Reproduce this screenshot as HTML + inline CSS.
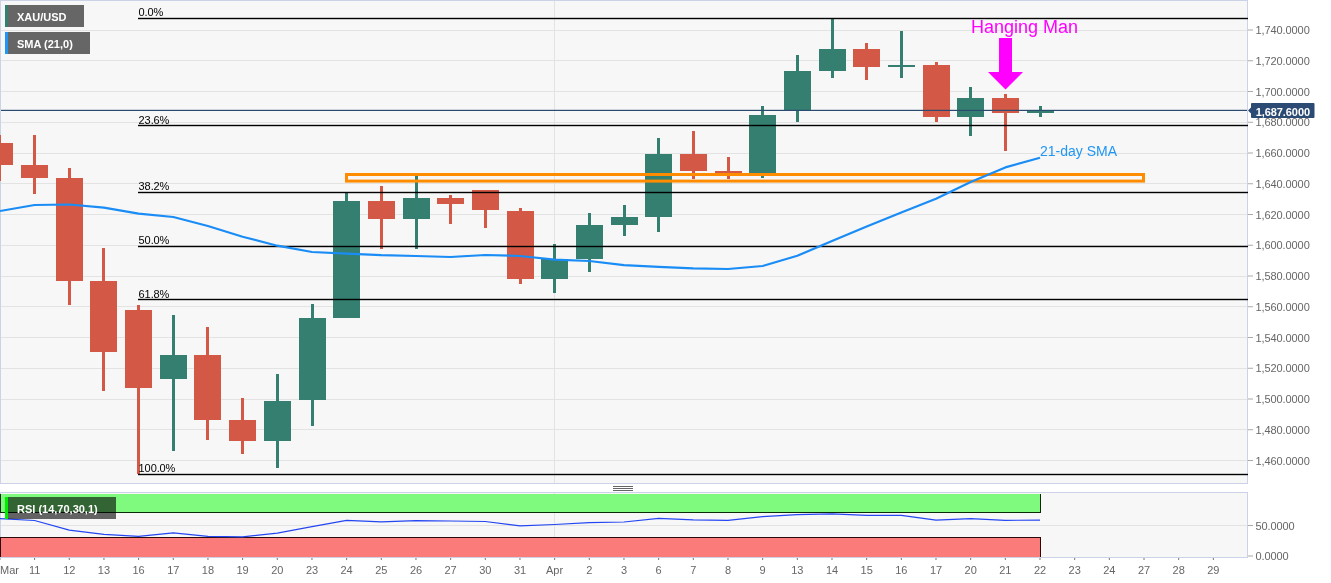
<!DOCTYPE html>
<html><head><meta charset="utf-8"><style>
html,body{margin:0;padding:0;background:#fff;width:1331px;height:583px;overflow:hidden;position:relative;font-family:"Liberation Sans",sans-serif;}
</style></head><body>
<svg width="1331" height="583" viewBox="0 0 1331 583" style="position:absolute;left:0;top:0;will-change:transform"><rect x="0" y="0" width="1248" height="484" fill="#f7f7f7"/><rect x="0" y="492" width="1248" height="66" fill="#f7f7f7"/><rect x="0" y="0" width="1248" height="1" fill="#ccd3e6"/><rect x="0" y="0" width="1" height="484" fill="#ccd3e6"/><rect x="1247" y="0" width="1" height="484" fill="#ccd3e6"/><rect x="0" y="483" width="1248" height="1" fill="#ccd3e6"/><rect x="0" y="492" width="1248" height="1" fill="#ccd3e6"/><rect x="0" y="492" width="1" height="66" fill="#ccd3e6"/><rect x="1247" y="492" width="1" height="66" fill="#ccd3e6"/><rect x="0" y="557" width="1248" height="1" fill="#ccd3e6"/><rect x="1" y="30" width="1246" height="1" fill="#e3e3e3"/><rect x="1" y="60" width="1246" height="1" fill="#e3e3e3"/><rect x="1" y="91" width="1246" height="1" fill="#e3e3e3"/><rect x="1" y="122" width="1246" height="1" fill="#e3e3e3"/><rect x="1" y="153" width="1246" height="1" fill="#e3e3e3"/><rect x="1" y="183" width="1246" height="1" fill="#e3e3e3"/><rect x="1" y="214" width="1246" height="1" fill="#e3e3e3"/><rect x="1" y="245" width="1246" height="1" fill="#e3e3e3"/><rect x="1" y="276" width="1246" height="1" fill="#e3e3e3"/><rect x="1" y="306" width="1246" height="1" fill="#e3e3e3"/><rect x="1" y="337" width="1246" height="1" fill="#e3e3e3"/><rect x="1" y="368" width="1246" height="1" fill="#e3e3e3"/><rect x="1" y="399" width="1246" height="1" fill="#e3e3e3"/><rect x="1" y="429" width="1246" height="1" fill="#e3e3e3"/><rect x="1" y="460" width="1246" height="1" fill="#e3e3e3"/><rect x="554" y="1" width="1" height="482" fill="#e3e3e3"/><rect x="554" y="493" width="1" height="64" fill="#e3e3e3"/><rect x="1" y="525" width="1246" height="1" fill="#e3e3e3"/><rect x="-2" y="135" width="3" height="46" fill="#d35846"/><rect x="-14" y="143" width="27" height="22" fill="#d35846"/><rect x="33" y="135" width="3" height="59" fill="#d35846"/><rect x="21" y="165" width="27" height="13" fill="#d35846"/><rect x="68" y="168" width="3" height="137" fill="#d35846"/><rect x="56" y="178" width="27" height="103" fill="#d35846"/><rect x="102" y="248" width="3" height="143" fill="#d35846"/><rect x="90" y="281" width="27" height="71" fill="#d35846"/><rect x="137" y="305" width="3" height="169" fill="#d35846"/><rect x="125" y="310" width="27" height="78" fill="#d35846"/><rect x="172" y="315" width="3" height="136" fill="#357f70"/><rect x="160" y="355" width="27" height="24" fill="#357f70"/><rect x="206" y="327" width="3" height="113" fill="#d35846"/><rect x="194" y="355" width="27" height="65" fill="#d35846"/><rect x="241" y="398" width="3" height="56" fill="#d35846"/><rect x="229" y="420" width="27" height="21" fill="#d35846"/><rect x="276" y="374" width="3" height="94" fill="#357f70"/><rect x="264" y="401" width="27" height="40" fill="#357f70"/><rect x="311" y="304" width="3" height="122" fill="#357f70"/><rect x="299" y="318" width="27" height="82" fill="#357f70"/><rect x="345" y="193" width="3" height="125" fill="#357f70"/><rect x="333" y="201" width="27" height="117" fill="#357f70"/><rect x="380" y="186" width="3" height="63" fill="#d35846"/><rect x="368" y="201" width="27" height="18" fill="#d35846"/><rect x="415" y="176" width="3" height="73" fill="#357f70"/><rect x="403" y="198" width="27" height="21" fill="#357f70"/><rect x="449" y="195" width="3" height="29" fill="#d35846"/><rect x="437" y="198" width="27" height="6" fill="#d35846"/><rect x="484" y="190" width="3" height="38" fill="#d35846"/><rect x="472" y="190" width="27" height="20" fill="#d35846"/><rect x="519" y="208" width="3" height="76" fill="#d35846"/><rect x="507" y="211" width="27" height="68" fill="#d35846"/><rect x="553" y="244" width="3" height="49" fill="#357f70"/><rect x="541" y="259" width="27" height="20" fill="#357f70"/><rect x="588" y="213" width="3" height="59" fill="#357f70"/><rect x="576" y="225" width="27" height="34" fill="#357f70"/><rect x="623" y="205" width="3" height="31" fill="#357f70"/><rect x="611" y="217" width="27" height="8" fill="#357f70"/><rect x="657" y="138" width="3" height="94" fill="#357f70"/><rect x="645" y="154" width="27" height="63" fill="#357f70"/><rect x="692" y="131" width="3" height="48" fill="#d35846"/><rect x="680" y="154" width="27" height="17" fill="#d35846"/><rect x="727" y="157" width="3" height="22" fill="#d35846"/><rect x="715" y="171" width="27" height="3" fill="#d35846"/><rect x="761" y="106" width="3" height="72" fill="#357f70"/><rect x="749" y="115" width="27" height="58" fill="#357f70"/><rect x="796" y="55" width="3" height="67" fill="#357f70"/><rect x="784" y="71" width="27" height="39" fill="#357f70"/><rect x="831" y="19" width="3" height="59" fill="#357f70"/><rect x="819" y="49" width="27" height="22" fill="#357f70"/><rect x="865" y="43" width="3" height="37" fill="#d35846"/><rect x="853" y="49" width="27" height="18" fill="#d35846"/><rect x="900" y="31" width="3" height="47" fill="#357f70"/><rect x="888" y="65" width="27" height="2" fill="#357f70"/><rect x="935" y="62" width="3" height="60" fill="#d35846"/><rect x="923" y="65" width="27" height="52" fill="#d35846"/><rect x="969" y="87" width="3" height="49" fill="#357f70"/><rect x="957" y="98" width="27" height="19" fill="#357f70"/><rect x="1004" y="94" width="3" height="57" fill="#d35846"/><rect x="992" y="98" width="27" height="15" fill="#d35846"/><rect x="1039" y="106" width="3" height="11" fill="#357f70"/><rect x="1027" y="111" width="27" height="2" fill="#357f70"/><rect x="346.5" y="174.5" width="797" height="6.6" fill="none" stroke="#ff8c00" stroke-width="3"/><rect x="138" y="17.80" width="1110" height="1.4" fill="#000"/><rect x="138" y="124.80" width="1110" height="1.4" fill="#000"/><rect x="138" y="191.80" width="1110" height="1.4" fill="#000"/><rect x="138" y="245.80" width="1110" height="1.4" fill="#000"/><rect x="138" y="298.80" width="1110" height="1.4" fill="#000"/><rect x="138" y="473.80" width="1110" height="1.4" fill="#000"/><polyline points="0.0,211.0 34.6,205.0 69.3,204.5 103.9,207.6 138.6,213.7 173.3,217.0 207.9,226.0 242.6,236.8 277.3,245.7 312.0,252.0 346.6,253.6 381.3,255.2 416.0,256.0 450.6,257.0 485.3,255.0 520.0,256.0 554.6,259.7 589.3,261.0 624.0,265.2 658.6,266.8 693.3,268.4 728.0,269.0 762.6,266.0 797.3,255.8 832.0,241.0 866.7,226.6 901.3,212.6 936.0,198.7 970.7,181.9 1005.3,167.4 1040.0,157.8" fill="none" stroke="#1a8cf5" stroke-width="2.2" stroke-linejoin="round"/><text x="138.6" y="16" font-family="Liberation Sans" font-size="11" letter-spacing="-0.1" fill="#000">0.0%</text><text x="138.6" y="124" font-family="Liberation Sans" font-size="11" letter-spacing="-0.1" fill="#000">23.6%</text><text x="138.6" y="190" font-family="Liberation Sans" font-size="11" letter-spacing="-0.1" fill="#000">38.2%</text><text x="138.6" y="244" font-family="Liberation Sans" font-size="11" letter-spacing="-0.1" fill="#000">50.0%</text><text x="138.6" y="298" font-family="Liberation Sans" font-size="11" letter-spacing="-0.1" fill="#000">61.8%</text><text x="138.6" y="472" font-family="Liberation Sans" font-size="11" letter-spacing="-0.1" fill="#000">100.0%</text><rect x="1" y="109.8" width="1246" height="1.2" fill="#2b4a70"/><rect x="0" y="494" width="1041" height="19" fill="#7ffa7f"/><rect x="0" y="494" width="1" height="19" fill="#0a2a0a"/><rect x="1040" y="494" width="1" height="19" fill="#0a2a0a"/><rect x="0" y="512" width="1041" height="1" fill="#0a2a0a"/><rect x="0" y="537" width="1041" height="20" fill="#fb7b7b"/><rect x="0" y="537" width="1041" height="1" fill="#2a0a0a"/><rect x="0" y="537" width="1" height="20" fill="#2a0a0a"/><rect x="1040" y="537" width="1" height="20" fill="#2a0a0a"/><polyline points="0.0,518.6 34.6,520.5 69.3,530.2 103.9,534.4 138.6,536.4 173.3,532.8 207.9,536.4 242.6,536.9 277.3,533.1 312.0,526.6 346.6,520.4 381.3,521.8 416.0,520.7 450.6,521.0 485.3,521.5 520.0,525.8 554.6,524.5 589.3,522.6 624.0,522.0 658.6,518.3 693.3,519.9 728.0,520.4 762.6,516.6 797.3,514.7 832.0,513.9 866.7,515.3 901.3,515.3 936.0,520.1 970.7,518.7 1005.3,520.3 1040.0,520.1" fill="none" stroke="#2446f2" stroke-width="1.2" stroke-linejoin="round"/><rect x="613" y="486" width="20" height="1" fill="#666"/><rect x="613" y="488" width="20" height="1" fill="#666"/><rect x="613" y="490" width="20" height="1" fill="#666"/><rect x="1248" y="29.50" width="5" height="1" fill="#aaa"/><text x="1255.5" y="34.0" font-family="Liberation Sans" font-size="11" letter-spacing="-0.09" fill="#666">1,740.0000</text><rect x="1248" y="60.25" width="5" height="1" fill="#aaa"/><text x="1255.5" y="64.8" font-family="Liberation Sans" font-size="11" letter-spacing="-0.09" fill="#666">1,720.0000</text><rect x="1248" y="91.00" width="5" height="1" fill="#aaa"/><text x="1255.5" y="95.5" font-family="Liberation Sans" font-size="11" letter-spacing="-0.09" fill="#666">1,700.0000</text><rect x="1248" y="121.75" width="5" height="1" fill="#aaa"/><text x="1255.5" y="126.2" font-family="Liberation Sans" font-size="11" letter-spacing="-0.09" fill="#666">1,680.0000</text><rect x="1248" y="152.50" width="5" height="1" fill="#aaa"/><text x="1255.5" y="157.0" font-family="Liberation Sans" font-size="11" letter-spacing="-0.09" fill="#666">1,660.0000</text><rect x="1248" y="183.25" width="5" height="1" fill="#aaa"/><text x="1255.5" y="187.8" font-family="Liberation Sans" font-size="11" letter-spacing="-0.09" fill="#666">1,640.0000</text><rect x="1248" y="214.00" width="5" height="1" fill="#aaa"/><text x="1255.5" y="218.5" font-family="Liberation Sans" font-size="11" letter-spacing="-0.09" fill="#666">1,620.0000</text><rect x="1248" y="244.75" width="5" height="1" fill="#aaa"/><text x="1255.5" y="249.2" font-family="Liberation Sans" font-size="11" letter-spacing="-0.09" fill="#666">1,600.0000</text><rect x="1248" y="275.50" width="5" height="1" fill="#aaa"/><text x="1255.5" y="280.0" font-family="Liberation Sans" font-size="11" letter-spacing="-0.09" fill="#666">1,580.0000</text><rect x="1248" y="306.25" width="5" height="1" fill="#aaa"/><text x="1255.5" y="310.8" font-family="Liberation Sans" font-size="11" letter-spacing="-0.09" fill="#666">1,560.0000</text><rect x="1248" y="337.00" width="5" height="1" fill="#aaa"/><text x="1255.5" y="341.5" font-family="Liberation Sans" font-size="11" letter-spacing="-0.09" fill="#666">1,540.0000</text><rect x="1248" y="367.75" width="5" height="1" fill="#aaa"/><text x="1255.5" y="372.2" font-family="Liberation Sans" font-size="11" letter-spacing="-0.09" fill="#666">1,520.0000</text><rect x="1248" y="398.50" width="5" height="1" fill="#aaa"/><text x="1255.5" y="403.0" font-family="Liberation Sans" font-size="11" letter-spacing="-0.09" fill="#666">1,500.0000</text><rect x="1248" y="429.25" width="5" height="1" fill="#aaa"/><text x="1255.5" y="433.8" font-family="Liberation Sans" font-size="11" letter-spacing="-0.09" fill="#666">1,480.0000</text><rect x="1248" y="460.00" width="5" height="1" fill="#aaa"/><text x="1255.5" y="464.5" font-family="Liberation Sans" font-size="11" letter-spacing="-0.09" fill="#666">1,460.0000</text><rect x="1248" y="525.00" width="5" height="1" fill="#aaa"/><text x="1255.5" y="529.5" font-family="Liberation Sans" font-size="11" letter-spacing="-0.09" fill="#666">50.0000</text><rect x="1248" y="555.50" width="5" height="1" fill="#aaa"/><text x="1255.5" y="560.0" font-family="Liberation Sans" font-size="11" letter-spacing="-0.09" fill="#666">0.0000</text><rect x="-0.57" y="558" width="1" height="2" fill="#777"/><text x="0" y="574" font-family="Liberation Sans" font-size="11" fill="#666">Mar</text><rect x="34.10" y="558" width="1" height="2" fill="#777"/><text x="34.6" y="574" text-anchor="middle" font-family="Liberation Sans" font-size="11" fill="#666">11</text><rect x="68.77" y="558" width="1" height="2" fill="#777"/><text x="69.3" y="574" text-anchor="middle" font-family="Liberation Sans" font-size="11" fill="#666">12</text><rect x="103.44" y="558" width="1" height="2" fill="#777"/><text x="103.9" y="574" text-anchor="middle" font-family="Liberation Sans" font-size="11" fill="#666">13</text><rect x="138.11" y="558" width="1" height="2" fill="#777"/><text x="138.6" y="574" text-anchor="middle" font-family="Liberation Sans" font-size="11" fill="#666">16</text><rect x="172.77" y="558" width="1" height="2" fill="#777"/><text x="173.3" y="574" text-anchor="middle" font-family="Liberation Sans" font-size="11" fill="#666">17</text><rect x="207.44" y="558" width="1" height="2" fill="#777"/><text x="207.9" y="574" text-anchor="middle" font-family="Liberation Sans" font-size="11" fill="#666">18</text><rect x="242.11" y="558" width="1" height="2" fill="#777"/><text x="242.6" y="574" text-anchor="middle" font-family="Liberation Sans" font-size="11" fill="#666">19</text><rect x="276.78" y="558" width="1" height="2" fill="#777"/><text x="277.3" y="574" text-anchor="middle" font-family="Liberation Sans" font-size="11" fill="#666">20</text><rect x="311.45" y="558" width="1" height="2" fill="#777"/><text x="312.0" y="574" text-anchor="middle" font-family="Liberation Sans" font-size="11" fill="#666">23</text><rect x="346.12" y="558" width="1" height="2" fill="#777"/><text x="346.6" y="574" text-anchor="middle" font-family="Liberation Sans" font-size="11" fill="#666">24</text><rect x="380.79" y="558" width="1" height="2" fill="#777"/><text x="381.3" y="574" text-anchor="middle" font-family="Liberation Sans" font-size="11" fill="#666">25</text><rect x="415.46" y="558" width="1" height="2" fill="#777"/><text x="416.0" y="574" text-anchor="middle" font-family="Liberation Sans" font-size="11" fill="#666">26</text><rect x="450.13" y="558" width="1" height="2" fill="#777"/><text x="450.6" y="574" text-anchor="middle" font-family="Liberation Sans" font-size="11" fill="#666">27</text><rect x="484.80" y="558" width="1" height="2" fill="#777"/><text x="485.3" y="574" text-anchor="middle" font-family="Liberation Sans" font-size="11" fill="#666">30</text><rect x="519.46" y="558" width="1" height="2" fill="#777"/><text x="520.0" y="574" text-anchor="middle" font-family="Liberation Sans" font-size="11" fill="#666">31</text><rect x="554.13" y="558" width="1" height="2" fill="#777"/><text x="554.6" y="574" text-anchor="middle" font-family="Liberation Sans" font-size="11" fill="#666">Apr</text><rect x="588.80" y="558" width="1" height="2" fill="#777"/><text x="589.3" y="574" text-anchor="middle" font-family="Liberation Sans" font-size="11" fill="#666">2</text><rect x="623.47" y="558" width="1" height="2" fill="#777"/><text x="624.0" y="574" text-anchor="middle" font-family="Liberation Sans" font-size="11" fill="#666">3</text><rect x="658.14" y="558" width="1" height="2" fill="#777"/><text x="658.6" y="574" text-anchor="middle" font-family="Liberation Sans" font-size="11" fill="#666">6</text><rect x="692.81" y="558" width="1" height="2" fill="#777"/><text x="693.3" y="574" text-anchor="middle" font-family="Liberation Sans" font-size="11" fill="#666">7</text><rect x="727.48" y="558" width="1" height="2" fill="#777"/><text x="728.0" y="574" text-anchor="middle" font-family="Liberation Sans" font-size="11" fill="#666">8</text><rect x="762.15" y="558" width="1" height="2" fill="#777"/><text x="762.6" y="574" text-anchor="middle" font-family="Liberation Sans" font-size="11" fill="#666">9</text><rect x="796.82" y="558" width="1" height="2" fill="#777"/><text x="797.3" y="574" text-anchor="middle" font-family="Liberation Sans" font-size="11" fill="#666">13</text><rect x="831.49" y="558" width="1" height="2" fill="#777"/><text x="832.0" y="574" text-anchor="middle" font-family="Liberation Sans" font-size="11" fill="#666">14</text><rect x="866.15" y="558" width="1" height="2" fill="#777"/><text x="866.7" y="574" text-anchor="middle" font-family="Liberation Sans" font-size="11" fill="#666">15</text><rect x="900.82" y="558" width="1" height="2" fill="#777"/><text x="901.3" y="574" text-anchor="middle" font-family="Liberation Sans" font-size="11" fill="#666">16</text><rect x="935.49" y="558" width="1" height="2" fill="#777"/><text x="936.0" y="574" text-anchor="middle" font-family="Liberation Sans" font-size="11" fill="#666">17</text><rect x="970.16" y="558" width="1" height="2" fill="#777"/><text x="970.7" y="574" text-anchor="middle" font-family="Liberation Sans" font-size="11" fill="#666">20</text><rect x="1004.83" y="558" width="1" height="2" fill="#777"/><text x="1005.3" y="574" text-anchor="middle" font-family="Liberation Sans" font-size="11" fill="#666">21</text><rect x="1039.50" y="558" width="1" height="2" fill="#777"/><text x="1040.0" y="574" text-anchor="middle" font-family="Liberation Sans" font-size="11" fill="#666">22</text><rect x="1074.17" y="558" width="1" height="2" fill="#777"/><text x="1074.7" y="574" text-anchor="middle" font-family="Liberation Sans" font-size="11" fill="#666">23</text><rect x="1108.84" y="558" width="1" height="2" fill="#777"/><text x="1109.3" y="574" text-anchor="middle" font-family="Liberation Sans" font-size="11" fill="#666">24</text><rect x="1143.51" y="558" width="1" height="2" fill="#777"/><text x="1144.0" y="574" text-anchor="middle" font-family="Liberation Sans" font-size="11" fill="#666">27</text><rect x="1178.18" y="558" width="1" height="2" fill="#777"/><text x="1178.7" y="574" text-anchor="middle" font-family="Liberation Sans" font-size="11" fill="#666">28</text><rect x="1212.85" y="558" width="1" height="2" fill="#777"/><text x="1213.3" y="574" text-anchor="middle" font-family="Liberation Sans" font-size="11" fill="#666">29</text><path d="M1248,110.5 L1251,107.5 L1251,104 Q1251,103 1252,103 L1313.5,103 Q1314.5,103 1314.5,104 L1314.5,117 Q1314.5,118 1313.5,118 L1252,118 Q1251,118 1251,117 L1251,113.5 Z" fill="#2c4b74"/><text x="1255.8" y="115.5" font-family="Liberation Sans" font-size="11" font-weight="bold" letter-spacing="-0.09" fill="#fff">1,687.6000</text><text x="971" y="33" font-family="Liberation Sans" font-size="18" fill="#ff00ff">Hanging Man</text><path d="M999,38 L1012,38 L1012,72 L1023,72 L1005.5,89.5 L988,72 L999,72 Z" fill="#ff00ff"/><text x="1040" y="155.7" font-family="Liberation Sans" font-size="14" fill="#2196f3">21-day SMA</text><rect x="5" y="5" width="79" height="22" fill="#666"/><rect x="5" y="5" width="3" height="22" fill="#357f70"/><text x="17" y="21" font-family="Liberation Sans" font-size="11" font-weight="bold" fill="#fff">XAU/USD</text><rect x="5" y="32" width="85" height="22" fill="#666"/><rect x="5" y="32" width="3" height="22" fill="#2196f3"/><text x="17" y="48" font-family="Liberation Sans" font-size="11" font-weight="bold" fill="#fff">SMA (21,0)</text><rect x="5" y="497" width="111" height="22" fill="rgba(0,0,0,0.6)"/><rect x="5" y="497" width="3" height="22" fill="#00ee00"/><text x="17" y="513" font-family="Liberation Sans" font-size="11" font-weight="bold" fill="#fff">RSI (14,70,30,1)</text></svg>
</body></html>
